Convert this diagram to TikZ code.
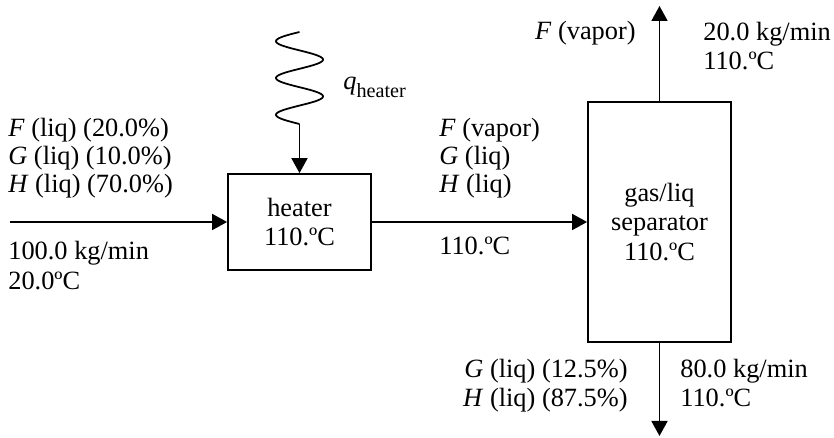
\documentclass[tikz,border=0pt]{standalone}
\usepackage{fontspec}
\setmainfont{Liberation Serif}
\usetikzlibrary{arrows.meta, positioning}
\tikzset{
  unit/.style={rectangle, draw, line width=1pt, align=center, inner sep=0pt},
  flow/.style={-{Triangle[length=3mm, width=3.2mm]}, line width=1pt},
  lbl/.style={align=left, inner sep=0pt},
  lblr/.style={align=right, inner sep=0pt},
}

\begin{document}
\begin{tikzpicture}[font=\fontsize{15}{16.6}\selectfont]
\useasboundingbox (0,0) rectangle (16.68,8.76);
% ---- units ----
\node[unit, minimum width=2.86cm, minimum height=1.92cm] (heater) at (5.99,4.32) {heater\\ 110.ºC};
\node[unit, minimum width=2.86cm, minimum height=4.80cm] (sep) at (13.19,4.32) {gas/liq\\ separator\\ 110.ºC};
% ---- stream ends ----
\coordinate (feed) at (0.20,4.32);
\coordinate (vap) at (13.19,8.64);
\coordinate (liq) at (13.19,0.04);
\coordinate (heat) at (5.99,6.28);
% ---- streams ----
\draw[flow] (feed) -- (heater);
\draw[flow] (heater) -- (sep);
\draw[flow] (sep) -- (vap);
\draw[flow] (sep) -- (liq);
\draw[flow] (heat) -- (heater.north);
% heat input coil
\draw[line width=1pt] plot[domain=0:900, samples=120, smooth]
  ({5.99-0.47*sin(\x)}, {8.12-1.84*\x/900});
\node[inner sep=0pt, anchor=base west] (qlbl) at (6.86,6.96)
  {\textit{q}\raisebox{-4pt}{\fontsize{11.5}{12}\selectfont heater}};
% ---- stream labels (base = last line) ----
\node[lbl, anchor=base west, font=\fontsize{15}{16}\selectfont] (feedcomp) at (0.16,4.90)
  {\textit{F} (liq) (20.0\%)\\ \textit{G} (liq) (10.0\%)\\ \textit{H} (liq) (70.0\%)};
\node[lbl, anchor=base west, font=\fontsize{15}{17.5}\selectfont] (feedrate) at (0.16,2.96) {100.0 kg/min\\ 20.0ºC};
\node[lbl, anchor=base west, font=\fontsize{15}{16}\selectfont] (midcomp) at (8.78,4.90)
  {\textit{F} (vapor)\\ \textit{G} (liq)\\ \textit{H} (liq)};
\node[lbl, anchor=base west] (midtemp) at (8.78,3.66) {110.ºC};
\node[lblr, anchor=base east] (vapcomp) at (12.72,7.96) {\textit{F} (vapor)};
\node[lbl, anchor=base west] (vaprate) at (14.06,7.36) {20.0 kg/min\\ 110.ºC};
\node[lblr, anchor=base east] (liqcomp) at (12.56,0.62)
  {\textit{G} (liq) (12.5\%)\\ \textit{H} (liq) (87.5\%)};
\node[lbl, anchor=base west] (liqrate) at (13.60,0.62) {80.0 kg/min\\ 110.ºC};
\end{tikzpicture}
\end{document}
